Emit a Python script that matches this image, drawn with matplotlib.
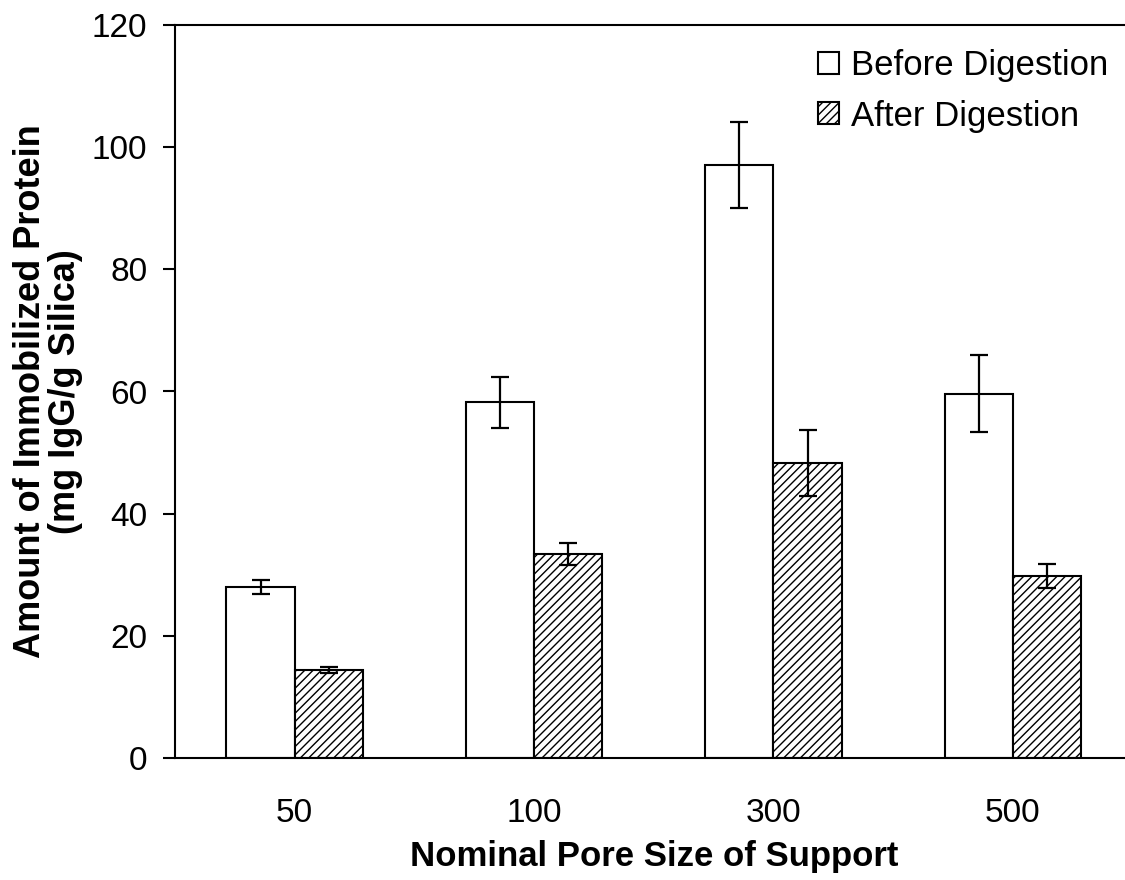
import numpy as np
import matplotlib
matplotlib.use("Agg")
import matplotlib.pyplot as plt

pore_sizes = ["50", "100", "300", "500"]
before = [28.0, 58.2, 97.1, 59.6]
before_err = [1.2, 4.2, 7.0, 6.3]
after = [14.4, 33.4, 48.3, 29.8]
after_err = [0.5, 1.8, 5.4, 2.0]

plt.rcParams["font.family"] = ["Liberation Sans", "DejaVu Sans"]
plt.rcParams["hatch.linewidth"] = 1.0

fig = plt.figure(figsize=(11.25, 8.8), dpi=100)
ax = fig.add_axes([175 / 1125, 122 / 880, (1132.5 - 175) / 1125, 733 / 880])

x = np.arange(len(pore_sizes))
w = 0.285
err_kw = dict(ecolor="black", elinewidth=1.6, capsize=6.5, capthick=1.6)

ax.bar(x - w / 2, before, w, yerr=before_err, color="white", edgecolor="black",
       linewidth=1.5, label="Before Digestion", error_kw=err_kw, zorder=2)
ax.bar(x + w / 2, after, w, yerr=after_err, color="white", edgecolor="black",
       linewidth=1.5, hatch="////", label="After Digestion", error_kw=err_kw, zorder=2)

ax.set_xlim(-0.5, 3.5)
ax.set_ylim(0, 120)
ax.set_yticks(range(0, 121, 20))
ax.set_xticks(x)
ax.set_xticklabels(pore_sizes)

for side in ["left", "bottom", "top"]:
    ax.spines[side].set_linewidth(1.5)
ax.spines["right"].set_visible(False)

ax.tick_params(axis="y", direction="out", length=9, width=1.5, labelsize=24, pad=11)
ax.tick_params(axis="x", length=0, labelsize=24, pad=29)

ax.set_xlabel("Nominal Pore Size of Support", fontsize=25, fontweight="bold", labelpad=8)
ax.set_ylabel("Amount of Immobilized Protein\n(mg IgG/g Silica)", fontsize=26,
              fontweight="bold", labelpad=6, linespacing=1.0)

ax.legend(loc="upper right", bbox_to_anchor=(1.0, 1.0), frameon=False, fontsize=25,
          handlelength=0.6, handleheight=0.6, handletextpad=0.35, labelspacing=0.5,
          borderaxespad=0.3)

fig.savefig("out.png", dpi=100)
